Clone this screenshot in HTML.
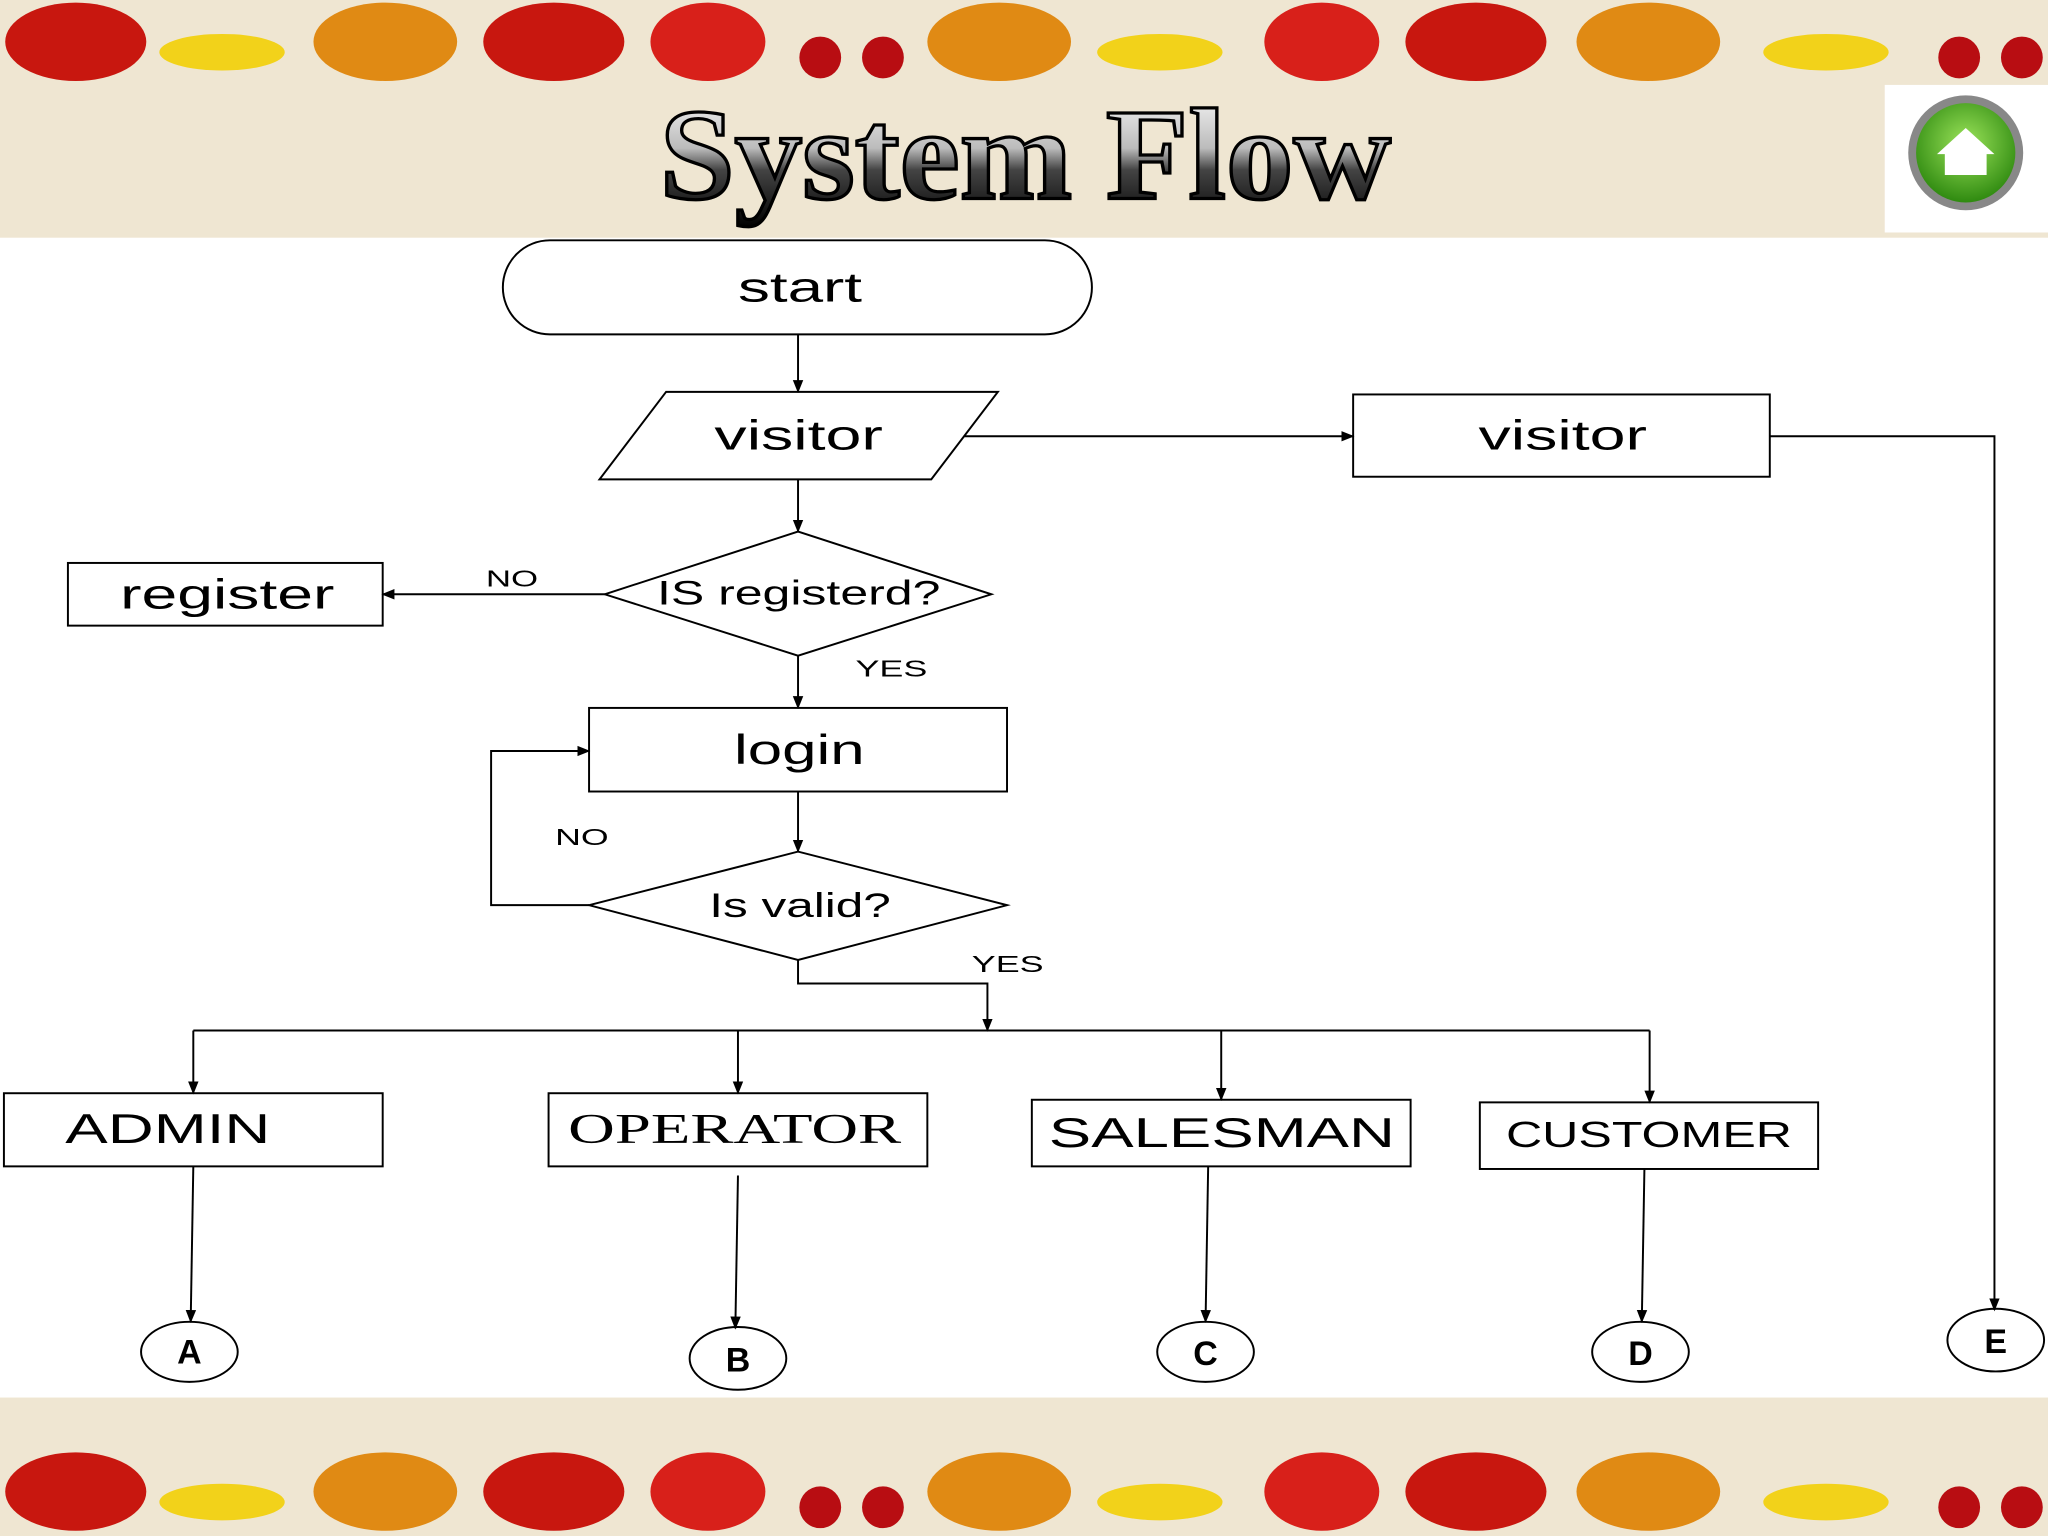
<!DOCTYPE html>
<html><head><meta charset="utf-8"><style>
html,body{margin:0;padding:0;background:#fff;}
svg{display:block;}
text{font-family:"Liberation Sans",sans-serif;}
</style></head><body>
<svg width="2048" height="1536" viewBox="0 0 1568 1176" xmlns="http://www.w3.org/2000/svg">
<defs>
<marker id="a" markerWidth="10" markerHeight="10" refX="9" refY="5" orient="auto" markerUnits="userSpaceOnUse"><path d="M0,1 L10,5 L0,9 z" fill="#000"/></marker>
<linearGradient id="tg" x1="0" y1="0" x2="0" y2="1"><stop offset="0" stop-color="#fff"/><stop offset="0.45" stop-color="#bbb"/><stop offset="0.6" stop-color="#444"/><stop offset="1" stop-color="#000"/></linearGradient>
<radialGradient id="gr" cx="0.5" cy="0.4" r="0.6"><stop offset="0" stop-color="#9be35a"/><stop offset="1" stop-color="#2f8a10"/></radialGradient>
<g id="fruits">
<ellipse cx="58" cy="32" rx="54" ry="30" fill="#c8170f"/><ellipse cx="170" cy="40" rx="48" ry="14" fill="#f2d21a"/>
<ellipse cx="295" cy="32" rx="55" ry="30" fill="#e08a14"/><ellipse cx="424" cy="32" rx="54" ry="30" fill="#c8170f"/>
<ellipse cx="542" cy="32" rx="44" ry="30" fill="#d8201a"/><circle cx="628" cy="44" r="16" fill="#b80d12"/><circle cx="676" cy="44" r="16" fill="#b80d12"/>
<ellipse cx="765" cy="32" rx="55" ry="30" fill="#e08a14"/><ellipse cx="888" cy="40" rx="48" ry="14" fill="#f2d21a"/>
<ellipse cx="1012" cy="32" rx="44" ry="30" fill="#d8201a"/><ellipse cx="1130" cy="32" rx="54" ry="30" fill="#c8170f"/>
<ellipse cx="1262" cy="32" rx="55" ry="30" fill="#e08a14"/><ellipse cx="1398" cy="40" rx="48" ry="14" fill="#f2d21a"/>
<circle cx="1500" cy="44" r="16" fill="#b80d12"/><circle cx="1548" cy="44" r="16" fill="#b80d12"/>
</g>
</defs>
<rect x="0" y="0" width="1568" height="182" fill="#efe6d2"/>
<rect x="0" y="1070" width="1568" height="106" fill="#efe6d2"/>
<use href="#fruits"/>
<use href="#fruits" y="1110"/>
<text x="785" y="152" text-anchor="middle" font-weight="bold" font-size="100" textLength="560" lengthAdjust="spacingAndGlyphs" fill="url(#tg)" stroke="#000" stroke-width="2.5" style="font-family:'Liberation Serif',serif">System Flow</text>
<rect x="1443" y="65" width="125" height="113" fill="#fff"/>
<circle cx="1505" cy="117" r="44" fill="#888"/><circle cx="1505" cy="117" r="38" fill="url(#gr)"/>
<path d="M1483,118 L1505,98 L1527,118 L1521,118 L1521,134 L1489,134 L1489,118 z" fill="#fff"/>
<g fill="none" stroke="#000" stroke-width="1.5">
<rect x="385" y="184" width="451" height="72" rx="36"/>
<polygon points="510,300 764,300 713,367 459,367"/>
<rect x="1036" y="302" width="319" height="63"/>
<polygon points="463,455 611,407 759,455 611,502"/>
<rect x="52" y="431" width="241" height="48"/>
<rect x="451" y="542" width="320" height="64"/>
<polygon points="451,693 611,652 771,693 611,735"/>
<rect x="3" y="837" width="290" height="56"/>
<rect x="420" y="837" width="290" height="56"/>
<rect x="790" y="842" width="290" height="51"/>
<rect x="1133" y="844" width="259" height="51"/>
<ellipse cx="145" cy="1035" rx="37" ry="23"/>
<ellipse cx="565" cy="1040" rx="37" ry="24"/>
<ellipse cx="923" cy="1035" rx="37" ry="23"/>
<ellipse cx="1256" cy="1035" rx="37" ry="23"/>
<ellipse cx="1528" cy="1026" rx="37" ry="24"/>
<g marker-end="url(#a)">
<line x1="611" y1="256" x2="611" y2="300"/>
<line x1="738" y1="334" x2="1036" y2="334"/>
<polyline points="1355,334 1527,334 1527,1003"/>
<line x1="611" y1="367" x2="611" y2="407"/>
<line x1="463" y1="455" x2="293" y2="455"/>
<line x1="611" y1="502" x2="611" y2="542"/>
<polyline points="451,693 376,693 376,575 451,575"/>
<line x1="611" y1="606" x2="611" y2="652"/>
<polyline points="611,735 611,753 756,753 756,789"/>
<line x1="148" y1="789" x2="148" y2="837"/>
<line x1="565" y1="789" x2="565" y2="837"/>
<line x1="935" y1="789" x2="935" y2="842"/>
<line x1="1263" y1="789" x2="1263" y2="844"/>
<line x1="148" y1="893" x2="146" y2="1012"/>
<line x1="565" y1="900" x2="563" y2="1017"/>
<line x1="925" y1="893" x2="923" y2="1012"/>
<line x1="1259" y1="895" x2="1257" y2="1012"/>
</g>
<line x1="148" y1="789" x2="1263" y2="789"/>
</g>
<g fill="#000" lengthAdjust="spacingAndGlyphs">
<text x="565" y="231" font-size="32" textLength="95" lengthAdjust="spacingAndGlyphs">start</text>
<text x="547" y="344" font-size="32" textLength="129" lengthAdjust="spacingAndGlyphs">visitor</text>
<text x="1132" y="344" font-size="32" textLength="129" lengthAdjust="spacingAndGlyphs">visitor</text>
<text x="503" y="463" font-size="26" textLength="217" lengthAdjust="spacingAndGlyphs">IS registerd?</text>
<text x="92" y="466" font-size="32" textLength="164" lengthAdjust="spacingAndGlyphs">register</text>
<text x="372" y="449" font-size="18" textLength="40" lengthAdjust="spacingAndGlyphs">NO</text>
<text x="655" y="518" font-size="18" textLength="55" lengthAdjust="spacingAndGlyphs">YES</text>
<text x="562" y="585" font-size="32" textLength="100" lengthAdjust="spacingAndGlyphs">login</text>
<text x="425" y="647" font-size="18" textLength="41" lengthAdjust="spacingAndGlyphs">NO</text>
<text x="543" y="702" font-size="26" textLength="139" lengthAdjust="spacingAndGlyphs">Is valid?</text>
<text x="744" y="744" font-size="18" textLength="55" lengthAdjust="spacingAndGlyphs">YES</text>
<text x="50" y="875" font-size="32" textLength="157" lengthAdjust="spacingAndGlyphs">ADMIN</text>
<text x="435" y="875" font-size="32" textLength="255" lengthAdjust="spacingAndGlyphs" style="font-family:'Liberation Serif',serif">OPERATOR</text>
<text x="803" y="878" font-size="32" textLength="265" lengthAdjust="spacingAndGlyphs">SALESMAN</text>
<text x="1153" y="878" font-size="28" textLength="219" lengthAdjust="spacingAndGlyphs">CUSTOMER</text>
</g>
<g fill="#000" text-anchor="middle" font-weight="bold" font-size="26">
<text x="145" y="1044">A</text>
<text x="565" y="1050">B</text>
<text x="923" y="1045">C</text>
<text x="1256" y="1045">D</text>
<text x="1528" y="1036">E</text>
</g>
</svg>
</body></html>
